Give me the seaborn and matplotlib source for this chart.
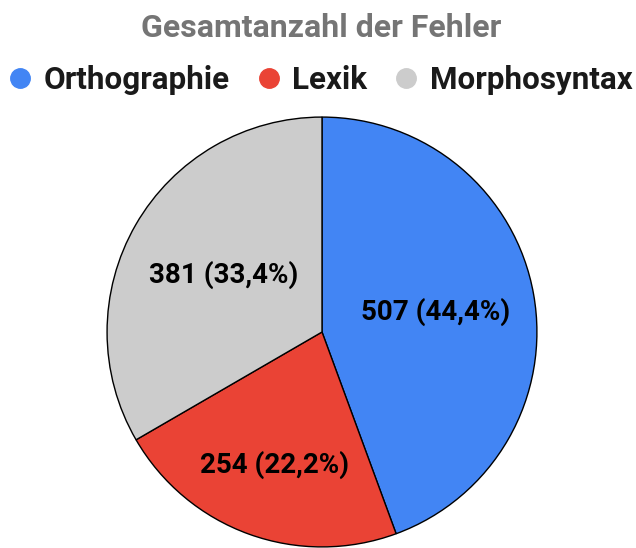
import matplotlib
matplotlib.use("Agg")
import matplotlib.pyplot as plt
from matplotlib.lines import Line2D
import numpy as np
import seaborn as sns

categories = ["Orthographie", "Lexik", "Morphosyntax"]
counts = [507, 254, 381]
colors = ["#4285F4", "#EA4335", "#CCCCCC"]
title = "Gesamtanzahl der Fehler"
label_dist = [0.535, 0.655, 0.53]

sns.set_theme(style="white")
plt.rcParams["font.family"] = ["Roboto", "DejaVu Sans"]

total = sum(counts)

def fmt(pct):
    val = int(round(pct * total / 100))
    return f"{val} ({pct:.1f}%)".replace(".", ",")

fig = plt.figure(figsize=(6.36, 5.48), dpi=100)
ax = fig.add_axes([106 / 636, 0.0, 432 / 636, 432 / 548])
wedges, texts, autotexts = ax.pie(
    counts, colors=colors, startangle=90, counterclock=False,
    autopct=fmt, pctdistance=0.55,
    wedgeprops=dict(edgecolor="black", linewidth=1),
    textprops=dict(fontsize=20, fontweight="bold", color="black"),
)
# label placement like the original (red label sits further out)
for w, t, d in zip(wedges, autotexts, label_dist):
    mid = np.deg2rad((w.theta1 + w.theta2) / 2)
    t.set_position((d * np.cos(mid), d * np.sin(mid)))
    t.set_va("center")
ax.set_xlim(-1.005, 1.005)
ax.set_ylim(-1.005, 1.005)
ax.set_aspect("equal")

fig.text(0.505, 1 - 28 / 548, title, ha="center", va="center",
         fontsize=23, fontweight="bold", color="#757575")

handles = [Line2D([], [], marker="o", linestyle="", markersize=14,
                  markerfacecolor=c, markeredgecolor=c) for c in colors]
fig.legend(handles, categories, loc="center", bbox_to_anchor=(321.5 / 636, 1 - 80 / 548),
           ncol=3, frameon=False, handlelength=0.6, handletextpad=0.45,
           columnspacing=0.95, borderaxespad=0, borderpad=0,
           prop=dict(size=22.6, weight="bold"), labelcolor="#1a1a1a")

fig.savefig("out.png", dpi=100)
